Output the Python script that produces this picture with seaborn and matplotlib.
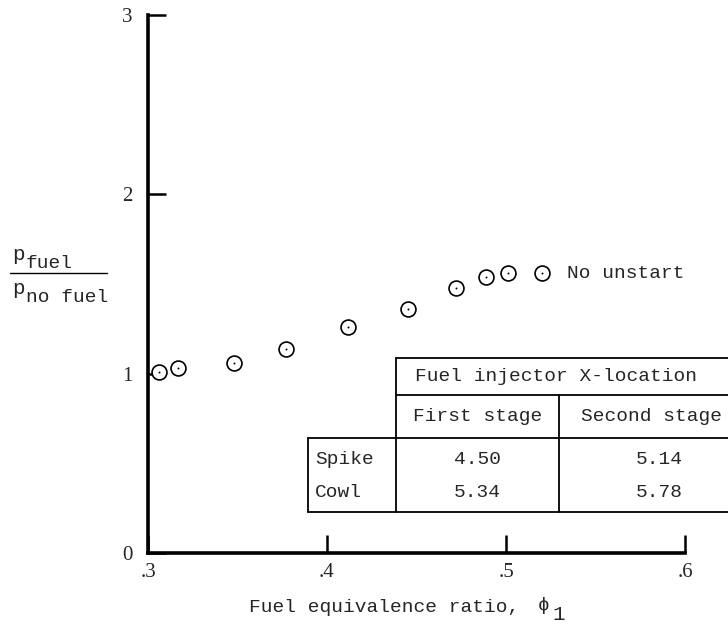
import matplotlib
matplotlib.use("Agg")
import matplotlib.pyplot as plt
import seaborn as sns
import pandas as pd

# Pressure ratio vs. fuel equivalence ratio
phi = [0.306, 0.317, 0.348, 0.377, 0.412, 0.445, 0.472, 0.489, 0.501, 0.520]
p_ratio = [1.01, 1.03, 1.06, 1.14, 1.26, 1.36, 1.48, 1.54, 1.56, 1.56]

# Injector location table
table_title = "Fuel injector X-location"
stage_cols = ["First stage", "Second stage"]
row_names = ["Spike", "Cowl"]
first_stage = ["4.50", "5.34"]
second_stage = ["5.14", "5.78"]

x_ticks = [0.3, 0.4, 0.5, 0.6]
x_ticklabels = [".3", ".4", ".5", ".6"]
y_ticks = [0, 1, 2, 3]

sns.set_style("ticks")
MONO = ["Liberation Mono", "DejaVu Sans Mono"]
SERIF = ["Liberation Serif", "DejaVu Serif"]
FS = 14

df = pd.DataFrame({"phi": phi, "ratio": p_ratio})

fig = plt.figure(figsize=(7.28, 6.24), dpi=100)
ax = fig.add_axes([148 / 728, 71 / 624, 537 / 728, 538 / 624])

sns.scatterplot(data=df, x="phi", y="ratio", ax=ax, marker="o", s=115,
                facecolor="white", edgecolor="black", linewidth=1.2,
                clip_on=False, zorder=3)
sns.scatterplot(data=df, x="phi", y="ratio", ax=ax, marker="o", s=2,
                color="black", linewidth=0, clip_on=False, zorder=4)

ax.set_xlim(0.3, 0.6)
ax.set_ylim(0, 3)
sns.despine(ax=ax)
for side in ("left", "bottom"):
    ax.spines[side].set_linewidth(2.6)
    ax.spines[side].set_color("black")

ax.set_xticks(x_ticks)
ax.set_xticklabels(x_ticklabels)
ax.set_yticks(y_ticks)
ax.set_yticklabels([str(v) for v in y_ticks])
ax.tick_params(axis="both", which="major", direction="in", length=13,
               width=1.8, color="black", labelsize=15,
               bottom=True, left=True, top=False, right=False)
ax.tick_params(axis="y", pad=11)
ax.tick_params(axis="x", pad=7)
for lab in ax.get_xticklabels() + ax.get_yticklabels():
    lab.set_family(SERIF)

ax.set_xlabel("")
ax.set_ylabel("")

# x-axis title
fig.text(249 / 728, 1 - 607 / 624, "Fuel equivalence ratio,", family=MONO,
         fontsize=FS, ha="left", va="center")
fig.text(538 / 728, 1 - 605 / 624, "\u03d5", family=MONO, fontsize=FS,
         ha="left", va="center")
fig.text(552 / 728, 1 - 614 / 624, "1", family=MONO, fontsize=FS + 1,
         ha="left", va="center")

# y-axis title as a fraction
fig.text(12 / 728, 1 - 255 / 624, "p", family=MONO, fontsize=FS + 1,
         ha="left", va="center")
fig.text(26 / 728, 1 - 263 / 624, "fuel", family=MONO, fontsize=FS,
         ha="left", va="center")
fig.add_artist(plt.Line2D([10 / 728, 107 / 728], [1 - 273 / 624, 1 - 273 / 624],
                          transform=fig.transFigure, color="black", lw=1.0))
fig.text(12 / 728, 1 - 288 / 624, "p", family=MONO, fontsize=FS + 1,
         ha="left", va="center")
fig.text(26 / 728, 1 - 297 / 624, "no fuel", family=MONO, fontsize=FS,
         ha="left", va="center")

# annotation for last point
ax.text(0.534, p_ratio[-1], "No unstart", family=MONO, fontsize=FS,
        ha="left", va="center")

# table drawn in data coordinates
xl, xa, xm, xr = 0.3894, 0.4385, 0.5296, 0.63
yt, y1, y2, yb = 1.0875, 0.881, 0.641, 0.229
tl = dict(color="black", lw=1.3, clip_on=False, zorder=2)
ax.plot([xa, xr], [yt, yt], **tl)
ax.plot([xa, xr], [y1, y1], **tl)
ax.plot([xl, xr], [y2, y2], **tl)
ax.plot([xl, xr], [yb, yb], **tl)
ax.plot([xa, xa], [yt, yb], **tl)
ax.plot([xm, xm], [y1, yb], **tl)
ax.plot([xl, xl], [y2, yb], **tl)

txt = dict(family=MONO, fontsize=FS, va="center")
ax.text(0.5282, (yt + y1) / 2, table_title, ha="center", **txt)
ax.text((xa + xm) / 2, (y1 + y2) / 2, stage_cols[0], ha="center", **txt)
ax.text(0.5815, (y1 + y2) / 2, stage_cols[1], ha="center", **txt)
row_y = [0.52, 0.34]
for name, a, b, yy in zip(row_names, first_stage, second_stage, row_y):
    ax.text(0.3935, yy, name, ha="left", **txt)
    ax.text((xa + xm) / 2, yy, a, ha="center", **txt)
    ax.text(0.5855, yy, b, ha="center", **txt)

fig.savefig("out.png", dpi=100)
